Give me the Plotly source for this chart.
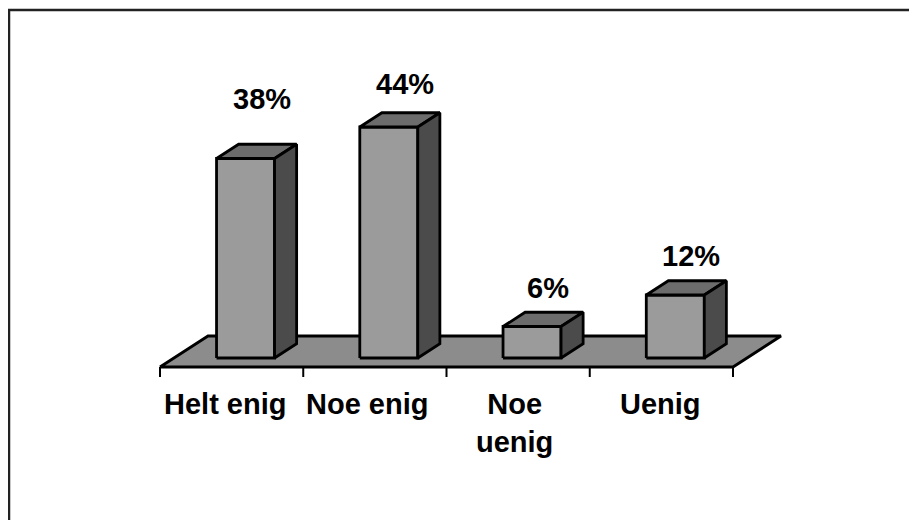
import plotly.graph_objects as go

# ---- data ----
categories = ["Helt enig", "Noe enig", "Noe<br>uenig", "Uenig"]
values = [38, 44, 6, 12]
value_labels = ["38%", "44%", "6%", "12%"]

# ---- styling / layout constants ----
W, H = 917, 520
OFF = 8                           # page body margin in the browser
X0_PX, Y0_PX = 160 - OFF, 367 - OFF   # figure pixel of front-left floor corner
PX_PER_CAT = 143.25               # pixels per category
PX_PER_PCT = 5.25                 # pixels per percent
DEPTH_DX_PX, DEPTH_DY_PX = 48, 31 # floor depth projection in pixels
BAR_W = 0.405                     # bar width in category units
D0, D1 = 0.29, 0.75               # bar depth span (fraction of floor depth)
label_lift_px = [60, 43, 39, 39]  # vertical gap of value labels above bars
label_dx_px = 16
cat_xshift_px = [-7, -8, -4, -1]
FONT = dict(family="Liberation Sans, Arial", size=29, color="black")

FRONT, TOP, SIDE, FLOOR = "#9b9b9b", "#6c6c6c", "#4b4b4b", "#8c8c8c"
LINE = dict(color="black", width=2.8)

DX = DEPTH_DX_PX / PX_PER_CAT
DY = DEPTH_DY_PX / PX_PER_PCT

xr = [-X0_PX / PX_PER_CAT, (W - X0_PX) / PX_PER_CAT]
yr = [-(H - Y0_PX) / PX_PER_PCT, Y0_PX / PX_PER_PCT]

fig = go.Figure()

def poly(xs, ys, color):
    fig.add_trace(go.Scatter(
        x=list(xs) + [xs[0]], y=list(ys) + [ys[0]],
        mode="lines", fill="toself", fillcolor=color, line=LINE,
        hoverinfo="skip", showlegend=False))

n = len(categories)
# floor
poly([0, n, n + DX, DX], [0, 0, DY, DY], FLOOR)

# ticks under the floor front edge
tick_len = 10 / PX_PER_PCT
tx, ty = [], []
for i in range(n + 1):
    tx += [i, i, None]
    ty += [0, -tick_len, None]
fig.add_trace(go.Scatter(x=tx, y=ty, mode="lines", line=dict(color="black", width=2),
                         hoverinfo="skip", showlegend=False))

# 3D bars
for i, v in enumerate(values):
    xl = i + 0.5 - BAR_W / 2 + D0 * DX
    xrt = xl + BAR_W
    yb = D0 * DY
    yt = yb + v
    ddx = (D1 - D0) * DX
    ddy = (D1 - D0) * DY
    poly([xl, xrt, xrt, xl], [yb, yb, yt, yt], FRONT)
    poly([xl, xrt, xrt + ddx, xl + ddx], [yt, yt, yt + ddy, yt + ddy], TOP)
    poly([xrt, xrt + ddx, xrt + ddx, xrt], [yb, yb + ddy, yt + ddy, yt], SIDE)

annotations = []
for i, (v, lab) in enumerate(zip(values, value_labels)):
    annotations.append(dict(
        x=i + 0.5 + D0 * DX + label_dx_px / PX_PER_CAT,
        y=D0 * DY + v + label_lift_px[i] / PX_PER_PCT,
        text="<b>%s</b>" % lab, showarrow=False, xanchor="center", yanchor="middle",
        font=FONT))

for i, c in enumerate(categories):
    annotations.append(dict(
        x=i + 0.5, y=-(386 - OFF - Y0_PX) / PX_PER_PCT, xshift=cat_xshift_px[i],
        text="<b>%s</b>" % c, showarrow=False, xanchor="center", yanchor="top",
        font=FONT))

fig.update_layout(
    width=W, height=H,
    margin=dict(l=0, r=0, t=0, b=0, pad=0),
    paper_bgcolor="white", plot_bgcolor="white",
    xaxis=dict(range=xr, visible=False, fixedrange=True),
    yaxis=dict(range=yr, visible=False, fixedrange=True),
    annotations=annotations,
    shapes=[dict(type="rect", xref="paper", yref="paper",
                 x0=(8 - OFF + 1) / W, x1=(913 - OFF) / W, y0=-0.05, y1=1 - (9 - OFF + 1) / H,
                 line=dict(color="#222222", width=2.5))],
)

fig.write_html("out.html")
